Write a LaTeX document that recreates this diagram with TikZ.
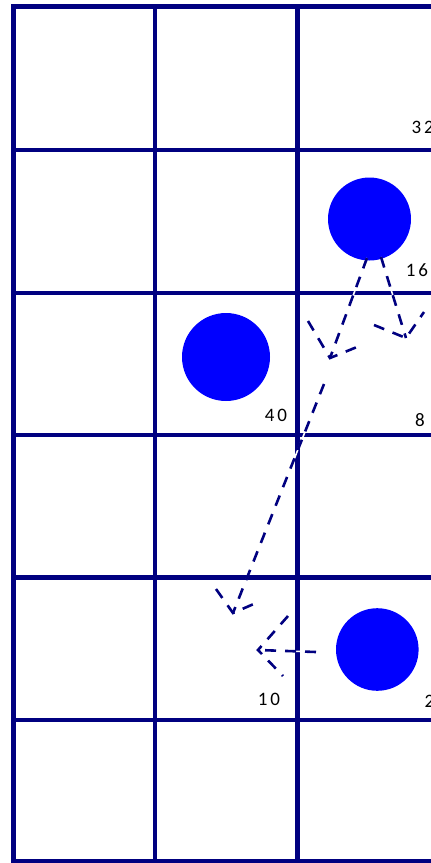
\documentclass[tikz,border=0pt]{standalone}
\usepackage{fontspec}
\newfontfamily\lblfont[LetterSpace=15]{Carlito}
\definecolor{gridnavy}{RGB}{0,0,128}
\definecolor{dotblue}{RGB}{0,0,255}
\begin{document}
\begin{tikzpicture}[x=1pt,y=-1pt,
  gridline/.style={draw=gridnavy, line width=4.6pt, line cap=rect},
  blob/.style={fill=dotblue, draw=none},
  halo/.style={draw=white, line width=1.6pt},
  dsh/.style={draw=gridnavy, line width=2.6pt, dash pattern=on 11pt off 9pt},
  lbl/.style={font=\lblfont\fontsize{19}{19}\selectfont, inner sep=0pt, text=black}]
\useasboundingbox (0,0) rectangle (431,863);
\clip (0,0) rectangle (431,863);
% grid
\foreach \x in {13.5,155,297.5,440}
  \draw[gridline] (\x,6.5) -- (\x,861);
\foreach \y in {6.5,150,293,435,577.5,720,861}
  \draw[gridline] (13.5,\y) -- (445,\y);
% dots
\fill[blob] (369.5,219) circle (41.5);
\fill[blob] (226,357) circle (44);
\fill[blob] (377.3,649.5) circle (41.3);
% arrow coordinates
\coordinate (aS) at (367,258);  \coordinate (aT) at (330,358);
\coordinate (aL) at (308,321);  \coordinate (aR) at (357,347);
\coordinate (bS) at (381,257);  \coordinate (bT) at (406,338);
\coordinate (bL) at (374,325);  \coordinate (bR) at (424,312);
\coordinate (cS) at (324,384);  \coordinate (cT) at (233,613);
\coordinate (cL) at (216,589);  \coordinate (cR) at (256,603);
\coordinate (dS) at (316,652);  \coordinate (dT) at (258,650);
\coordinate (dU) at (288,616);  \coordinate (dD) at (283,676);
% arrows
\foreach \s/\t/\l/\r in {aS/aT/aL/aR, bS/bT/bL/bR, cS/cT/cL/cR, dS/dT/dU/dD}{
  \draw[halo] (\s) -- (\t);
  \draw[dsh] (\s) -- (\t);
  \draw[dsh] (\l) -- (\t) -- (\r);
}
% labels
\node[lbl, anchor=west] (n32) at (411.5,127.5) {32};
\node[lbl] (n16) at (417,270.5) {16};
\node[lbl] (n40) at (276,415) {40};
\node[lbl] (n8) at (420,420) {8};
\node[lbl] (n10) at (269,699) {10};
\node[lbl, anchor=west] (n2) at (424.5,701) {2};
\end{tikzpicture}
\end{document}
